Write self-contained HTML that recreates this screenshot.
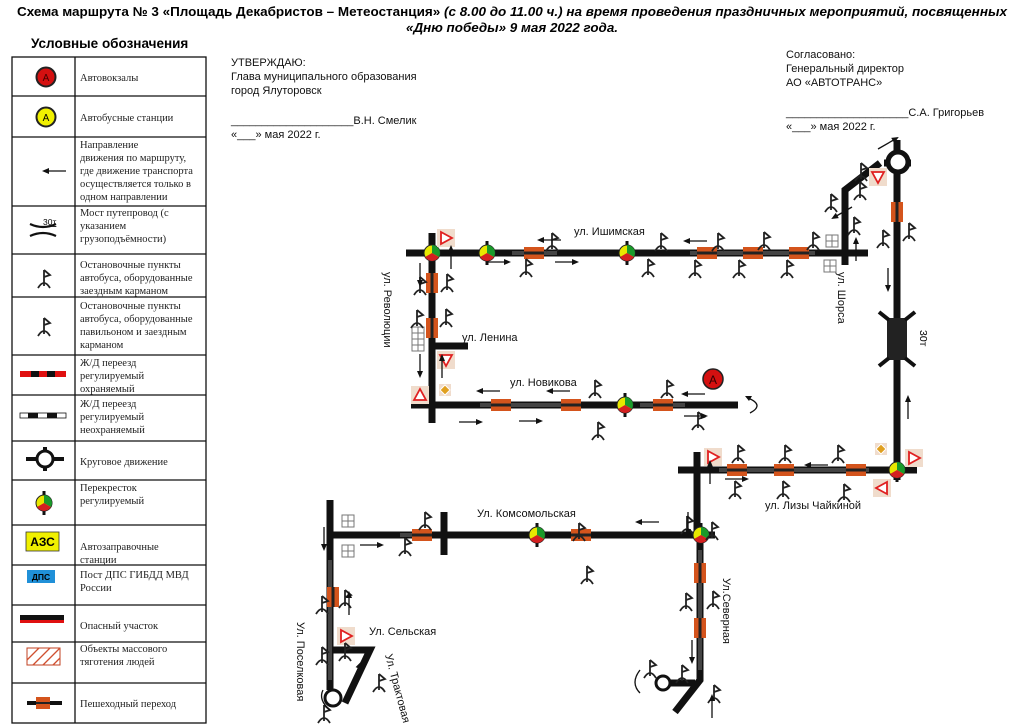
<!DOCTYPE html>
<html><head><meta charset="utf-8"><style>
html,body{margin:0;padding:0;background:#fff;}
svg{display:block;}
.s{font-family:"Liberation Serif",serif;font-size:10.5px;fill:#222;}
.a{font-family:"Liberation Sans",sans-serif;font-size:11px;fill:#111;}
</style></head><body>
<svg width="1024" height="724" viewBox="0 0 1024 724" xmlns="http://www.w3.org/2000/svg">
<defs>
<g id="stop"><path d="M0,-12 V4 M0,-12 L6,-7 L0,-5 M-6,6 Q0,-4 6,6" stroke="#222" stroke-width="1.8" fill="none"/></g>
<g id="tl"><rect x="-1.5" y="-12" width="3" height="24" fill="#111"/><circle r="8" fill="#e8e800" stroke="#222" stroke-width="1"/><path d="M0,0 L0,-8 A8,8 0 0 1 6.9,4 Z" fill="#1a9a2a"/><path d="M0,0 L6.9,4 A8,8 0 0 1 -6.9,4 Z" fill="#d42020"/></g>
<g id="pc"><rect x="-10" y="-6" width="20" height="12" fill="#d4541c"/><rect x="-10" y="-1.5" width="20" height="3" fill="#222"/></g>
<g id="pcv"><rect x="-6" y="-10" width="12" height="20" fill="#d4541c"/><rect x="-1.5" y="-10" width="3" height="20" fill="#222"/></g>
<g id="ar"><path d="M0,0 H-20" stroke="#111" stroke-width="1.3"/><path d="M-24,0 L-17,-3 L-17,3Z" fill="#111"/></g>
<g id="tri"><rect x="-9" y="-9" width="18" height="18" fill="#f0dccc"/><path d="M-5,-6 L6,0 L-5,6Z" fill="#fff" stroke="#e02020" stroke-width="1.8"/></g>
<g id="sq"><rect x="-6" y="-6" width="12" height="12" fill="#fff" stroke="#777" stroke-width="1"/><path d="M0,-6V6M-6,0H6" stroke="#777"/></g>
</defs>

<text x="512" y="16" text-anchor="middle" font-family="Liberation Sans,sans-serif" font-size="13" font-weight="bold" textLength="990" lengthAdjust="spacingAndGlyphs">Схема маршрута № 3 «Площадь Декабристов – Метеостанция» <tspan font-style="italic">(с 8.00 до 11.00 ч.) на время проведения праздничных  мероприятий, посвященных</tspan></text>
<text x="512" y="32" text-anchor="middle" font-family="Liberation Sans,sans-serif" font-size="13" font-weight="bold" font-style="italic" textLength="212" lengthAdjust="spacingAndGlyphs">«Дню победы» 9 мая 2022 года.</text>

<text x="31" y="48" font-family="Liberation Sans,sans-serif" font-size="13.5" font-weight="bold">Условные обозначения</text>
<g stroke="#111" stroke-width="1.3" fill="none">
<rect x="12" y="57" width="194" height="666"/>
<path d="M75,57V723"/>
<path d="M12,96H206M12,137H206M12,206H206M12,254H206M12,297H206M12,355H206M12,395H206M12,441H206M12,480H206M12,525H206M12,565H206M12,605H206M12,642H206M12,683H206"/>
</g>
<circle cx="46" cy="77" r="9.5" fill="#d41010" stroke="#222" stroke-width="2"/><text x="46" y="81" text-anchor="middle" font-family="Liberation Sans" font-size="10" fill="#400">А</text>
<text class="s" x="80" y="81">Автовокзалы</text>
<circle cx="46" cy="117" r="9.5" fill="#f0f000" stroke="#222" stroke-width="2"/><text x="46" y="121" text-anchor="middle" font-family="Liberation Sans" font-size="10">А</text>
<text class="s" x="80" y="121">Автобусные станции</text>
<use href="#ar" x="66" y="171"/>
<text class="s" x="80" y="148">Направление</text><text class="s" x="80" y="161">движения по маршруту,</text><text class="s" x="80" y="174">где движение транспорта</text><text class="s" x="80" y="187">осуществляется только в</text><text class="s" x="80" y="200">одном направлении</text>
<text x="43" y="225" font-family="Liberation Sans" font-size="8.5" text-decoration="underline">30т</text>
<path d="M30,224 Q43,230 56,224 M30,236 Q43,230 56,236" stroke="#111" stroke-width="2.2" fill="none"/>
<text class="s" x="80" y="216">Мост путепровод (с</text><text class="s" x="80" y="229">указанием</text><text class="s" x="80" y="242">грузоподъёмности)</text>
<use href="#stop" x="44" y="282"/>
<text class="s" x="80" y="268">Остановочные пункты</text><text class="s" x="80" y="281">автобуса, оборудованные</text><text class="s" x="80" y="294">заездным карманом</text>
<use href="#stop" x="44" y="330"/>
<text class="s" x="80" y="309">Остановочные пункты</text><text class="s" x="80" y="322">автобуса, оборудованные</text><text class="s" x="80" y="335">павильоном и заездным</text><text class="s" x="80" y="348">карманом</text>
<rect x="20" y="371" width="46" height="6" fill="#e01010"/><rect x="31" y="371" width="8" height="6" fill="#111"/><rect x="47" y="371" width="8" height="6" fill="#111"/>
<text class="s" x="80" y="366">Ж/Д переезд</text><text class="s" x="80" y="379">регулируемый</text><text class="s" x="80" y="392">охраняемый</text>
<rect x="20" y="413" width="46" height="5" fill="#fff" stroke="#111" stroke-width="0.8"/><rect x="28" y="413" width="10" height="5" fill="#111"/><rect x="47" y="413" width="10" height="5" fill="#111"/>
<text class="s" x="80" y="407">Ж/Д переезд</text><text class="s" x="80" y="420">регулируемый</text><text class="s" x="80" y="433">неохраняемый</text>
<path d="M26,459H64M45,447V471" stroke="#111" stroke-width="4"/><circle cx="45" cy="459" r="8" fill="#fff" stroke="#111" stroke-width="3"/>
<text class="s" x="80" y="465">Круговое движение</text>
<use href="#tl" x="44" y="503"/>
<text class="s" x="80" y="491">Перекресток</text><text class="s" x="80" y="504">регулируемый</text>
<rect x="26" y="532" width="33" height="19" fill="#f0f000" stroke="#333" stroke-width="0.8"/><text x="42.5" y="546" text-anchor="middle" font-family="Liberation Sans" font-weight="bold" font-size="12">АЗС</text>
<text class="s" x="80" y="550">Автозаправочные</text><text class="s" x="80" y="563">станции</text>
<rect x="27" y="570" width="28" height="13" fill="#2090d8"/><text x="41" y="580" text-anchor="middle" font-family="Liberation Sans" font-weight="bold" font-size="8.5">ДПС</text>
<text class="s" x="80" y="578">Пост ДПС ГИБДД МВД</text><text class="s" x="80" y="591">России</text>
<rect x="20" y="615" width="44" height="8" fill="#111"/><rect x="20" y="620" width="44" height="3" fill="#e01010"/>
<text class="s" x="80" y="629">Опасный участок</text>
<rect x="27" y="648" width="33" height="17" fill="#fff" stroke="#c04020" stroke-width="1"/>
<path d="M27,660L39,648M33,665L50,648M43,665L60,648M53,665L60,658" stroke="#d05030" stroke-width="1.3"/>
<text class="s" x="80" y="652">Объекты массового</text><text class="s" x="80" y="665">тяготения людей</text>
<path d="M27,703H62" stroke="#111" stroke-width="4"/><rect x="36" y="697" width="14" height="12" fill="#d4541c"/><rect x="36" y="702" width="14" height="2" fill="#222"/>
<text class="s" x="80" y="707">Пешеходный переход</text>

<text class="a" x="231" y="66">УТВЕРЖДАЮ:</text>
<text class="a" x="231" y="80">Глава муниципального образования</text>
<text class="a" x="231" y="94">город Ялуторовск</text>
<text class="a" x="231" y="124">____________________В.Н. Смелик</text>
<text class="a" x="231" y="138">«___» мая 2022 г.</text>
<text class="a" x="786" y="58">Согласовано:</text>
<text class="a" x="786" y="72">Генеральный директор</text>
<text class="a" x="786" y="86">АО «АВТОТРАНС»</text>
<text class="a" x="786" y="116">____________________С.А. Григорьев</text>
<text class="a" x="786" y="130">«___» мая 2022 г.</text>

<g stroke="#111" stroke-width="7" fill="none" stroke-linejoin="miter">
<path d="M406,253H868"/>
<path d="M432,233V423"/>
<path d="M411,405H738"/>
<path d="M432,346H468"/>
<path d="M845,265V190L880,163"/>
<path d="M897,140V480"/>
<path d="M884,163H911"/>
<path d="M678,470H917"/>
<path d="M697,452V535"/>
<path d="M327,535H715"/>
<path d="M330,500V690"/>
<path d="M444,512V555"/>
<path d="M330,650H370L345,703"/>
<path d="M700,535V680L675,712"/>
<path d="M670,683H695"/>
</g>
<circle cx="898" cy="162" r="10" fill="#fff" stroke="#111" stroke-width="5"/>
<circle cx="333" cy="698" r="8" fill="#fff" stroke="#111" stroke-width="3"/>
<circle cx="663" cy="683" r="7" fill="#fff" stroke="#111" stroke-width="3"/>
<rect x="887" y="318" width="20" height="42" fill="#222"/>
<path d="M879,312L889,320M915,312L905,320M879,366L889,358M915,366L905,358" stroke="#111" stroke-width="4"/>
<text x="920" y="330" font-family="Liberation Sans" font-size="10.5" transform="rotate(90 920 330)">30т</text>

<g fill="#444">
<rect x="512" y="251" width="45" height="4"/><rect x="690" y="251" width="125" height="4"/>
<rect x="480" y="403" width="100" height="4"/><rect x="640" y="403" width="45" height="4"/>
<rect x="719" y="468" width="150" height="4"/><rect x="400" y="533" width="30" height="4"/>
<rect x="698" y="550" width="4" height="120"/><rect x="328" y="560" width="4" height="120"/>
</g>

<use href="#pc" x="534" y="253"/><use href="#pc" x="707" y="253"/><use href="#pc" x="753" y="253"/><use href="#pc" x="799" y="253"/>
<use href="#pcv" x="432" y="283"/><use href="#pcv" x="432" y="328"/><use href="#pcv" x="897" y="212"/>
<use href="#pc" x="501" y="405"/><use href="#pc" x="571" y="405"/><use href="#pc" x="663" y="405"/>
<use href="#pc" x="737" y="470"/><use href="#pc" x="784" y="470"/><use href="#pc" x="856" y="470"/>
<use href="#pc" x="422" y="535"/><use href="#pc" x="581" y="535"/>
<use href="#pcv" x="700" y="573"/><use href="#pcv" x="700" y="628"/><use href="#pcv" x="333" y="597"/>

<use href="#tl" x="432" y="253"/><use href="#tl" x="487" y="253"/><use href="#tl" x="627" y="253"/>
<use href="#tl" x="625" y="405"/><use href="#tl" x="897" y="470"/><use href="#tl" x="537" y="535"/><use href="#tl" x="701" y="535"/>

<use href="#tri" x="446" y="238"/>
<g transform="translate(446,360) rotate(90)"><use href="#tri"/></g>
<g transform="translate(420,395) rotate(-90)"><use href="#tri"/></g>
<g transform="translate(878,177) rotate(90)"><use href="#tri"/></g>
<use href="#tri" x="713" y="457"/><use href="#tri" x="914" y="458"/>
<g transform="translate(882,488) rotate(180)"><use href="#tri"/></g>
<use href="#tri" x="346" y="636"/>
<rect x="439" y="384" width="12" height="12" fill="#f0dccc"/><path d="M445,385L450,390L445,395L440,390Z" fill="#e0a020" stroke="#fff"/>
<rect x="875" y="443" width="12" height="12" fill="#f0dccc"/><path d="M881,444L886,449L881,454L876,449Z" fill="#e0a020" stroke="#fff"/>
<use href="#sq" x="832" y="241"/><use href="#sq" x="830" y="266"/><use href="#sq" x="418" y="333"/><use href="#sq" x="418" y="345"/>
<use href="#sq" x="348" y="521"/><use href="#sq" x="348" y="551"/>
<circle cx="713" cy="379" r="10" fill="#d41010" stroke="#222" stroke-width="1.5"/><text x="713" y="384" text-anchor="middle" font-family="Liberation Sans" font-size="12" fill="#300">А</text>

<g>
<use href="#stop" x="552" y="245"/><use href="#stop" x="661" y="245"/><use href="#stop" x="718" y="245"/><use href="#stop" x="764" y="244"/><use href="#stop" x="813" y="244"/>
<use href="#stop" x="526" y="271"/><use href="#stop" x="648" y="271"/><use href="#stop" x="695" y="272"/><use href="#stop" x="739" y="272"/><use href="#stop" x="787" y="272"/>
<use href="#stop" x="420" y="289"/><use href="#stop" x="447" y="286"/><use href="#stop" x="417" y="322"/><use href="#stop" x="446" y="321"/>
<use href="#stop" x="595" y="392"/><use href="#stop" x="667" y="392"/><use href="#stop" x="598" y="434"/><use href="#stop" x="698" y="424"/>
<use href="#stop" x="831" y="206"/><use href="#stop" x="860" y="194"/><use href="#stop" x="854" y="229"/><use href="#stop" x="883" y="242"/><use href="#stop" x="909" y="235"/>
<use href="#stop" x="861" y="175"/>
<use href="#stop" x="738" y="457"/><use href="#stop" x="785" y="457"/><use href="#stop" x="838" y="457"/>
<use href="#stop" x="735" y="493"/><use href="#stop" x="783" y="493"/><use href="#stop" x="844" y="496"/>
<use href="#stop" x="687" y="528"/><use href="#stop" x="712" y="534"/><use href="#stop" x="686" y="605"/><use href="#stop" x="713" y="603"/><use href="#stop" x="682" y="677"/><use href="#stop" x="714" y="697"/><use href="#stop" x="650" y="672"/>
<use href="#stop" x="425" y="524"/><use href="#stop" x="579" y="535"/><use href="#stop" x="405" y="550"/><use href="#stop" x="587" y="578"/>
<use href="#stop" x="322" y="608"/><use href="#stop" x="345" y="602"/><use href="#stop" x="322" y="659"/><use href="#stop" x="345" y="655"/><use href="#stop" x="324" y="717"/><use href="#stop" x="379" y="686"/>
</g>

<g>
<use href="#ar" x="561" y="240"/><g transform="translate(487,262) rotate(180)"><use href="#ar"/></g>
<use href="#ar" x="707" y="241"/><g transform="translate(555,262) rotate(180)"><use href="#ar"/></g>
<g transform="translate(420,263) rotate(-90)"><use href="#ar"/></g><g transform="translate(451,269) rotate(90)"><use href="#ar"/></g>
<g transform="translate(420,354) rotate(-90)"><use href="#ar"/></g><g transform="translate(442,378) rotate(90)"><use href="#ar"/></g>
<use href="#ar" x="500" y="391"/><use href="#ar" x="570" y="391"/><use href="#ar" x="705" y="394"/>
<g transform="translate(459,422) rotate(180)"><use href="#ar"/></g><g transform="translate(519,421) rotate(180)"><use href="#ar"/></g><g transform="translate(684,416) rotate(180)"><use href="#ar"/></g>
<g transform="translate(888,268) rotate(-90)"><use href="#ar"/></g><g transform="translate(908,419) rotate(90)"><use href="#ar"/></g>
<g transform="translate(878,149) rotate(150)"><use href="#ar"/></g><g transform="translate(852,207) rotate(-30)"><use href="#ar"/></g>
<g transform="translate(856,261) rotate(90)"><use href="#ar"/></g>
<use href="#ar" x="828" y="465"/><g transform="translate(725,479) rotate(180)"><use href="#ar"/></g>
<use href="#ar" x="659" y="522"/><g transform="translate(360,545) rotate(180)"><use href="#ar"/></g>
<g transform="translate(688,512) rotate(-90)"><use href="#ar"/></g><g transform="translate(710,484) rotate(90)"><use href="#ar"/></g>
<g transform="translate(692,640) rotate(-90)"><use href="#ar"/></g><g transform="translate(712,718) rotate(90)"><use href="#ar"/></g>
<g transform="translate(324,527) rotate(-90)"><use href="#ar"/></g><g transform="translate(349,615) rotate(90)"><use href="#ar"/></g>
<g transform="translate(352,684) rotate(112)"><use href="#ar"/></g>
</g>
<path d="M748,398 Q765,405 750,413" stroke="#111" stroke-width="1.3" fill="none"/><path d="M745,396L752,396L749,401Z" fill="#111"/>
<path d="M640,670 Q630,683 640,693" stroke="#111" stroke-width="1.3" fill="none"/>
<path d="M323,690 Q318,700 330,710" stroke="#111" stroke-width="1.3" fill="none"/>

<text class="a" x="574" y="235">ул. Ишимская</text>
<text class="a" x="462" y="341">ул. Ленина</text>
<text class="a" x="510" y="386">ул. Новикова</text>
<text class="a" x="765" y="509">ул. Лизы Чайкиной</text>
<text class="a" x="477" y="517">Ул. Комсомольская</text>
<text class="a" x="369" y="635">Ул. Сельская</text>
<text class="a" x="384" y="272" transform="rotate(90 384 272)">ул. Революции</text>
<text class="a" x="838" y="272" transform="rotate(90 838 272)">ул. Шорса</text>
<text class="a" x="723" y="578" transform="rotate(90 723 578)">Ул.Северная</text>
<text class="a" x="297" y="622" transform="rotate(90 297 622)">Ул. Поселковая</text>
<text class="a" x="385" y="655" transform="rotate(75 385 655)">Ул. Трактовая</text>
</svg>
</body></html>
